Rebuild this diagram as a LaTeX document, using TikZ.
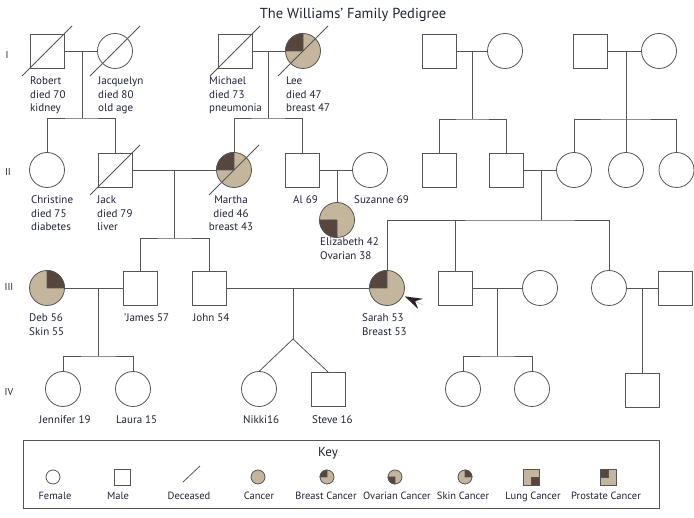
\documentclass[tikz,border=0pt]{standalone}
\usepackage{fontspec}
\setmainfont{PT Sans}
\usetikzlibrary{arrows.meta}
\definecolor{linec}{HTML}{555555}
\definecolor{beige}{HTML}{C4B69C}
\definecolor{darkc}{HTML}{56463E}
\definecolor{arrowc}{HTML}{2E2226}
\definecolor{textc}{HTML}{202238}
\newcommand\lblfont{\fontsize{11}{13.5}\selectfont}
\newcommand\keyfont{\fontsize{10.5}{12}\selectfont}
\newcommand\quadTL[2]{\filldraw[fill=darkc,draw=linec,line width=0.8pt] (#1.center) -- (#1.north) arc[start angle=90,end angle=180,radius=#2] -- cycle;}
\newcommand\quadBL[2]{\filldraw[fill=darkc,draw=linec,line width=0.8pt] (#1.center) -- (#1.west) arc[start angle=180,end angle=270,radius=#2] -- cycle;}
\newcommand\quadTR[2]{\filldraw[fill=darkc,draw=linec,line width=0.8pt] (#1.center) -- (#1.east) arc[start angle=0,end angle=90,radius=#2] -- cycle;}
\newcommand\dead[1]{\draw[ln] ([shift={(-25,-25)}]#1.center) -- ([shift={(25,25)}]#1.center);}
\tikzset{
  ln/.style={draw=linec, line width=0.8pt},
  male/.style={draw=linec, line width=0.8pt, fill=white, minimum size=34pt, inner sep=0pt, outer sep=0pt},
  female/.style={circle, draw=linec, line width=0.8pt, fill=white, minimum size=35pt, inner sep=0pt, outer sep=0pt},
  cancer/.style={fill=beige},
  lbl/.style={font=\lblfont, text=textc, align=left, anchor=base west, inner sep=0pt},
  gen/.style={font=\fontsize{10}{12}\selectfont, text=textc, inner sep=0pt},
  kf/.style={female, minimum size=14pt},
  km/.style={male, minimum size=16pt},
  klbl/.style={font=\keyfont, text=textc, inner sep=0pt, anchor=base},
}
\begin{document}
\begin{tikzpicture}[x=1pt,y=1pt]
\useasboundingbox (0,0) rectangle (694,-518);
\fill[white] (0,0) rectangle (694,-518);

% title
\node[font=\fontsize{14.5}{16}\selectfont, text=textc, anchor=base, inner sep=0pt] (title) at (353,-19) {The Williams’ Family Pedigree};

% generation labels
\node[gen] (gI) at (7,-55) {I};
\node[gen] (gII) at (8,-172) {II};
\node[gen] (gIII) at (9,-287) {III};
\node[gen] (gIV) at (9,-392) {IV};

% ---------- Generation I
\node[male] (R) at (47,-51) {};
\node[female] (J) at (115,-51) {};
\node[male] (M) at (235,-51) {};
\node[female,cancer] (L) at (303,-51) {};
\node[male] (RA) at (439,-51) {};
\node[female] (RB) at (505,-51) {};
\node[male] (RC) at (590,-51) {};
\node[female] (RD) at (659,-51) {};

% ---------- Generation II
\node[female] (Chr) at (47,-170) {};
\node[male] (Jack) at (115,-170) {};
\node[female,cancer] (Mar) at (234,-170) {};
\node[male] (Al) at (302,-170) {};
\node[female] (Suz) at (370,-170) {};
\node[female,cancer] (Eli) at (337,-220) {};
\node[male] (RE) at (439,-170) {};
\node[male] (RF) at (506,-170) {};
\node[female] (RG) at (574,-170) {};
\node[female] (RH) at (626,-170) {};
\node[female] (RI) at (676.5,-170) {};

% ---------- Generation III
\node[female,cancer] (Deb) at (47,-288) {};
\node[male] (Jam) at (140,-288) {};
\node[male] (John) at (209,-288) {};
\node[female,cancer] (Sar) at (387,-288) {};
\node[male] (RJ) at (455,-288) {};
\node[female] (RK) at (540,-288) {};
\node[female] (RL) at (609,-288) {};
\node[male] (RM) at (675.5,-288) {};

% ---------- Generation IV
\node[female] (Jen) at (63,-389) {};
\node[female] (Lau) at (133,-389) {};
\node[female] (Nik) at (259,-389) {};
\node[male] (Ste) at (328,-389) {};
\node[female] (RN) at (463,-389) {};
\node[female] (RO) at (532,-389) {};
\node[male] (RP) at (642,-390) {};

% ---------- connectors
\coordinate (c1) at (82,-51);   \coordinate (s1) at (82,-118);
\coordinate (c2) at (268,-51);  \coordinate (s2) at (268,-118);
\coordinate (c3) at (472,-51);  \coordinate (s3) at (472,-119);
\coordinate (c4) at (626,-51);  \coordinate (s4) at (626,-119);
\coordinate (c5) at (174,-170); \coordinate (s5) at (174,-238);
\coordinate (c6) at (337,-170);
\coordinate (c7) at (541,-170); \coordinate (s7) at (541,-220);
\coordinate (c8) at (98,-288);  \coordinate (s8) at (98,-356);
\coordinate (c9) at (293,-288); \coordinate (tw) at (293,-339);
\coordinate (c10) at (497,-288); \coordinate (s10) at (497,-356);
\coordinate (c11) at (642,-288);

\draw[ln] (R) -- (J);
\draw[ln] (c1) -- (s1);
\draw[ln] (Chr.north) |- (s1) -| (Jack.north);

\draw[ln] (M) -- (L);
\draw[ln] (c2) -- (s2);
\draw[ln] (Mar.north) |- (s2) -| (Al.north);

\draw[ln] (RA) -- (RB);
\draw[ln] (c3) -- (s3);
\draw[ln] (RE.north) |- (s3) -| (RF.north);

\draw[ln] (RC) -- (RD);
\draw[ln] (c4) -- (RH.north);
\draw[ln] (RG.north) |- (s4) -| (RI.north);

\draw[ln] (Jack) -- (Mar);
\draw[ln] (c5) -- (s5);
\draw[ln] (Jam.north) |- (s5) -| (John.north);

\draw[ln] (Al) -- (Suz);
\draw[ln] (c6) -- (Eli.north);

\draw[ln] (RF) -- (RG);
\draw[ln] (c7) -- (s7);
\draw[ln] (Sar.north) |- (s7) -| (RL.north);
\draw[ln] (s7 -| RJ.north) -- (RJ.north);

\draw[ln] (Deb) -- (Jam);
\draw[ln] (c8) -- (s8);
\draw[ln] (Jen.north) |- (s8) -| (Lau.north);

\draw[ln] (John) -- (Sar);
\draw[ln] (c9) -- (tw);
\draw[ln] (tw) -- (Nik.north);
\draw[ln] (tw) -- (Ste.north);

\draw[ln] (RJ) -- (RK);
\draw[ln] (c10) -- (s10);
\draw[ln] (RN.north) |- (s10) -| (RO.north);

\draw[ln] (RL) -- (RM);
\draw[ln] (c11) -- (RP.north);

% cancer quadrants
\quadTL{L}{17.5}
\quadTL{Mar}{17.5}
\quadTL{Sar}{17.5}
\quadBL{Eli}{17.5}
\quadTR{Deb}{17.5}

% deceased
\dead{R}
\dead{J}
\dead{M}
\dead{L}
\dead{Jack}
\dead{Mar}

% proband arrow
\coordinate (atail) at (423,-305);
\coordinate (atip) at (405,-296.5);
\draw[arrowc, line width=0.01pt, -{Stealth[length=17pt,width=11pt,inset=6pt]}] (atail) -- (atip);

% ---------- labels (base anchor = baseline of last line)
\node[lbl] (tR) at (30,-112) {Robert\\died 70\\kidney};
\node[lbl] (tJ) at (98,-112) {Jacquelyn\\died 80\\old age};
\node[lbl] (tM) at (209,-112) {Michael\\died 73\\pneumonia};
\node[lbl] (tL) at (286,-112) {Lee\\died 47\\breast 47};
\node[lbl] (tChr) at (31,-231) {Christine\\died 75\\diabetes};
\node[lbl] (tJack) at (97,-231) {Jack\\died 79\\liver};
\node[lbl, align=center, anchor=base] (tMar) at (231,-231) {Martha\\died 46\\breast 43};
\node[lbl] (tAl) at (293,-204) {Al 69};
\node[lbl] (tSuz) at (354,-204) {Suzanne 69};
\node[lbl, font=\fontsize{11}{14}\selectfont] (tEli) at (320,-260) {Elizabeth 42\\Ovarian 38};
\node[lbl] (tDeb) at (29,-335.5) {Deb 56\\Skin 55};
\node[lbl] (tJam) at (124,-322) {'James 57};
\node[lbl] (tJohn) at (193,-322) {John 54};
\node[lbl] (tSar) at (362,-335.5) {Sarah 53\\Breast 53};
\node[lbl] (tJen) at (39,-424) {Jennifer 19};
\node[lbl] (tLau) at (116,-424) {Laura 15};
\node[lbl] (tNik) at (243,-424) {Nikki16};
\node[lbl] (tSte) at (312,-424) {Steve 16};

% ---------- key
\node[draw=linec, line width=0.8pt, minimum width=636pt, minimum height=68pt, inner sep=0pt, anchor=north west] (keybox) at (23,-440) {};
\node[font=\fontsize{13}{14}\selectfont, text=textc, inner sep=0pt] (keyt) at (328,-453) {Key};

\node[kf] (kF) at (53,-477) {};
\node[km] (kM) at (122,-477) {};
\coordinate (kD1) at (183,-482);
\coordinate (kD2) at (200,-466);
\draw[ln] (kD1) -- (kD2);
\node[kf,cancer] (kC) at (258,-477) {};
\node[kf,cancer] (kB) at (327,-477) {};
\quadTL{kB}{7}
\node[kf,cancer] (kO) at (395,-477) {};
\quadBL{kO}{7}
\node[kf,cancer] (kS) at (465,-477) {};
\quadTR{kS}{7}
\node[km,cancer] (kL) at (531,-477) {};
\filldraw[fill=darkc,draw=linec,line width=0.8pt] (kL.center) rectangle (kL.south east);
\node[km,cancer] (kP) at (608,-477) {};
\filldraw[fill=darkc,draw=linec,line width=0.8pt] (kP.center) rectangle (kP.north west);

\node[klbl] (lF) at (55,-500) {Female};
\node[klbl] (lM) at (118,-500) {Male};
\node[klbl] (lD) at (189,-500) {Deceased};
\node[klbl] (lC) at (259,-500) {Cancer};
\node[klbl] (lB) at (326,-500) {Breast Cancer};
\node[klbl] (lO) at (397,-500) {Ovarian Cancer};
\node[klbl] (lS) at (463,-500) {Skin Cancer};
\node[klbl] (lL) at (533,-500) {Lung Cancer};
\node[klbl] (lP) at (606,-500) {Prostate Cancer};
\end{tikzpicture}
\end{document}
